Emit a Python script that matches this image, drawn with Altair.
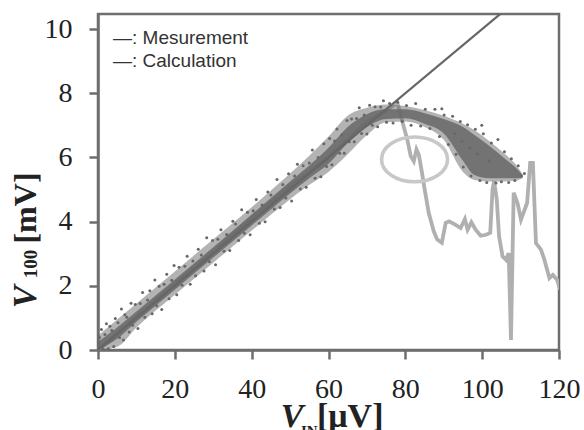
import altair as alt
import pandas as pd

# ---- data ----
# Calculation: straight line from origin, leaves the top of the plot near x=105
calc_x = [0, 105]
calc_y = [0, 10.5]

# Measurement (light gray line)
meas_x = [0, 10, 20, 30, 40, 50, 60, 70, 75, 77.9, 79.2, 80.5, 81.4, 82.2, 82.9, 83.5,
          84.2, 84.9, 86.1, 87.4, 88.3, 89.5, 90.5, 91.4, 93.1, 94.4, 95.5, 96.2, 97.2,
          98.3, 99.6, 101.0, 102.1, 102.7, 103.1, 103.8, 104.4, 105.3, 106.2, 106.9,
          107.5, 108.2, 109.2, 110.1, 111.7, 112.5, 113.2, 114.0, 115.3, 116.2, 117.5,
          118.4, 119.5, 120.3]
meas_y = [0, 1.02, 2.05, 3.05, 4.1, 5.1, 6.0, 7.1, 7.45, 7.72, 7.13, 6.56, 6.04, 5.88, 6.25,
          6.09, 5.62, 5.1, 4.27, 3.7, 3.44, 3.34, 3.96, 4.01, 3.9, 3.8, 4.08, 3.75, 3.98,
          3.75, 3.56, 3.59, 3.65, 5.0, 5.26, 4.69, 3.54, 2.92, 2.81, 3.02,
          0.31, 4.9, 4.58, 4.06, 4.58, 5.83, 5.83, 3.33, 3.13, 2.81, 2.24,
          2.34, 2.19, 1.88]

# Body of the scattered data: dense core and looser halo (lower / upper edges)
band_x = [0, 5, 10, 20, 30, 40, 50, 55, 60, 65, 70, 75, 80, 85, 90, 95, 98, 102, 106, 109, 110.5]
core_lo = [0, 0.35, 0.88, 1.88, 2.88, 3.88, 4.88, 5.35, 5.8, 6.45, 6.95, 7.2, 7.22, 7.05, 6.75, 5.9, 5.45, 5.35, 5.35, 5.35, 5.38]
core_hi = [0.25, 0.7, 1.2, 2.2, 3.2, 4.22, 5.25, 5.75, 6.3, 6.95, 7.35, 7.5, 7.5, 7.38, 7.2, 6.95, 6.7, 6.35, 5.95, 5.65, 5.45]
halo_lo = [0, 0.1, 0.7, 1.72, 2.72, 3.72, 4.7, 5.15, 5.55, 6.1, 6.7, 7.1, 7.12, 6.95, 6.55, 5.55, 5.3, 5.25, 5.25, 5.28, 5.35]
halo_hi = [0.45, 0.95, 1.45, 2.45, 3.45, 4.45, 5.5, 6.05, 6.65, 7.3, 7.55, 7.65, 7.6, 7.48, 7.3, 7.05, 6.85, 6.5, 6.1, 5.75, 5.48]

# Scattered dots around the body (x, y)
scatter_pts = [
    (0.4, 0.39), (0.9, 0.64), (1.3, 0.03), (1.8, 0.48), (2.2, 0.82), (2.7, 0.04), (3.1, 0.74),
    (3.6, 0.61), (4.1, 0.11), (4.5, 0.98), (5.2, 0.85), (5.6, 0.39), (6.1, 1.28), (6.6, 0.31),
    (7.0, 1.1), (7.5, 1.02), (8.1, 0.56), (8.6, 1.46), (9.0, 0.77), (9.7, 1.42), (10.4, 0.67),
    (11.0, 1.45), (11.6, 1.79), (12.2, 1.02), (12.9, 1.56), (13.5, 1.85), (14.1, 1.13),
    (14.8, 2.18), (15.3, 1.38), (15.9, 1.99), (16.6, 1.26), (17.2, 2.05), (17.9, 2.36),
    (18.5, 1.6), (19.2, 2.17), (19.8, 2.63), (20.5, 1.72), (21.1, 2.58), (21.9, 2.02),
    (22.6, 2.61), (23.2, 2.92), (24.0, 2.05), (24.7, 2.77), (25.4, 2.31), (26.1, 3.14),
    (26.9, 2.96), (27.6, 2.46), (28.3, 3.5), (29.0, 2.75), (29.8, 3.41), (30.6, 2.66),
    (31.2, 3.45), (32.0, 3.75), (32.8, 3.08), (33.5, 3.6), (34.3, 3.1), (35.1, 4.01),
    (35.8, 3.93), (36.6, 3.41), (37.4, 4.37), (38.1, 3.64), (38.9, 4.29), (39.6, 3.59),
    (40.4, 4.34), (41.2, 4.69), (42.0, 3.95), (42.7, 4.52), (43.5, 4.0), (44.2, 4.92),
    (45.0, 4.83), (45.9, 4.39), (46.6, 5.31), (47.4, 4.44), (48.1, 5.16), (48.9, 4.74),
    (49.6, 5.49), (50.4, 4.64), (51.2, 5.42), (51.9, 5.79), (52.7, 5.02), (53.4, 5.74),
    (54.2, 5.07), (55.0, 5.83), (55.8, 6.23), (56.5, 5.35), (57.3, 6.0), (58.0, 5.4),
    (58.8, 6.43), (59.5, 5.72),
    (60.3, 6.59), (60.9, 5.77), (61.6, 6.51), (62.2, 6.89), (62.9, 6.13), (63.5, 6.7),
    (64.1, 6.13), (64.8, 7.15), (65.4, 6.49), (66.0, 7.2), (66.7, 6.49), (67.3, 7.21),
    (68.0, 7.55), (68.6, 6.75), (69.3, 7.32), (70.0, 6.73), (70.7, 7.63), (71.4, 7.0),
    (72.1, 7.58), (72.8, 6.96), (73.6, 7.57), (74.3, 7.77), (75.1, 7.1), (75.9, 7.68), (76.8, 7.07),
    (78.0, 7.72), (79.2, 7.12), (80.3, 7.62), (81.5, 7.0), (82.7, 7.68), (84.0, 6.98),
    (85.2, 7.5), (86.4, 6.9), (87.7, 7.5), (88.9, 6.65), (89.5, 7.52), (90.1, 7.32), (91.2, 6.4),
    (92.3, 7.28), (92.8, 6.75), (93.2, 6.1), (94.3, 7.12), (94.8, 6.5), (95.1, 5.7), (96.2, 7.02),
    (96.8, 6.3), (97.1, 5.42), (98.2, 6.88), (98.8, 6.1), (99.4, 5.28), (99.9, 7.0), (100.3, 6.74),
    (101.2, 5.22), (101.8, 5.9), (102.4, 6.45), (103.6, 5.2), (104.1, 6.56), (105.0, 5.24),
    (105.8, 6.18), (106.9, 5.22), (107.6, 5.96), (108.5, 5.28), (109.4, 5.74), (110.2, 5.42),
    (111.0, 5.5),
]

# Highlight ellipse (centre)
ell_x = [82.4]
ell_y = [5.94]

x_ticks = [0, 20, 40, 60, 80, 100, 120]
y_ticks = [0, 2, 4, 6, 8, 10]
legend_lines = ["\u2014: Mesurement", "\u2014: Calculation"]

# ---- chart ----
AX = "#6e6e6e"
DOT = "#676767"
LIGHT = "#b0b0b0"
SERIF = "Liberation Serif"

xs = alt.Scale(domain=[0, 120], nice=False)
ys = alt.Scale(domain=[0, 10.47], nice=False)

x_axis = alt.Axis(values=x_ticks, title=None, grid=False, labelFont=SERIF, labelFontSize=28,
                  labelColor="#222222", tickSize=9, tickWidth=2.5, tickColor=AX,
                  domainColor=AX, domainWidth=2.5, labelPadding=16, labelFlush=False)
y_axis = alt.Axis(values=y_ticks, title=None, grid=False, labelFont=SERIF, labelFontSize=28,
                  labelColor="#222222", tickSize=9, tickWidth=2.5, tickColor=AX,
                  domainColor=AX, domainWidth=2.5, labelPadding=17)

meas_df = pd.DataFrame({"x": meas_x, "y": meas_y})
calc_df = pd.DataFrame({"x": calc_x, "y": calc_y})
band_df = pd.DataFrame({"x": band_x, "clo": core_lo, "chi": core_hi, "hlo": halo_lo, "hhi": halo_hi})
dot_df = pd.DataFrame(scatter_pts, columns=["x", "y"])
ell_df = pd.DataFrame({"x": ell_x, "y": ell_y})

meas = alt.Chart(meas_df).mark_line(color=LIGHT, strokeWidth=3.8, clip=True).encode(
    x=alt.X("x:Q", scale=xs, axis=x_axis),
    y=alt.Y("y:Q", scale=ys, axis=y_axis),
    order="x:Q",
)

halo = alt.Chart(band_df).mark_area(color=DOT, opacity=0.5, interpolate="monotone").encode(
    x=alt.X("x:Q", scale=xs), y=alt.Y("hlo:Q", scale=ys), y2="hhi:Q"
)
core = alt.Chart(band_df).mark_area(color=DOT, opacity=0.85, interpolate="monotone").encode(
    x=alt.X("x:Q", scale=xs), y=alt.Y("clo:Q", scale=ys), y2="chi:Q"
)

dots = alt.Chart(dot_df).mark_circle(color=DOT, size=9, opacity=1).encode(
    x=alt.X("x:Q", scale=xs), y=alt.Y("y:Q", scale=ys)
)

calc = alt.Chart(calc_df).mark_line(color="#666666", strokeWidth=2.2, clip=True).encode(
    x=alt.X("x:Q", scale=xs), y=alt.Y("y:Q", scale=ys)
)

ellipse_path = ("M -1 0 C -1 -0.3756 -0.5523 -0.68 0 -0.68 C 0.5523 -0.68 1 -0.3756 1 0 "
                "C 1 0.3756 0.5523 0.68 0 0.68 C -0.5523 0.68 -1 0.3756 -1 0 Z")
ell = alt.Chart(ell_df).mark_point(shape=ellipse_path, size=4356, filled=False,
                                   color="#c8c8c8", strokeWidth=3.6, opacity=1).encode(
    x=alt.X("x:Q", scale=xs), y=alt.Y("y:Q", scale=ys)
)

def txt(s, x, y, **kw):
    return alt.Chart(pd.DataFrame({"t": [s]})).mark_text(**kw).encode(
        text="t:N", x=alt.value(x), y=alt.value(y))

leg1 = txt(legend_lines[0], 15, 30, font="Liberation Sans", fontSize=19, color="#333333",
           align="left", baseline="alphabetic")
leg2 = txt(legend_lines[1], 15, 53, font="Liberation Sans", fontSize=19, color="#333333",
           align="left", baseline="alphabetic")

# axis titles built from pieces (italic V with subscript)
xt1 = txt("V", 194, 413, font=SERIF, fontSize=34, fontWeight="bold", fontStyle="italic",
          color="#222222", align="center", baseline="alphabetic")
xt2 = txt("IN", 203, 422, font=SERIF, fontSize=15, fontWeight="bold",
          color="#222222", align="left", baseline="alphabetic")
xt3 = txt("[\u03bcV]", 219, 413, font=SERIF, fontSize=34, fontWeight="bold",
          color="#222222", align="left", baseline="alphabetic")

yt1 = txt("V", -72, 283, font=SERIF, fontSize=34, fontWeight="bold", fontStyle="italic",
          color="#222222", align="center", baseline="middle", angle=270)
yt2 = txt("100", -67, 250, font=SERIF, fontSize=19, fontWeight="bold",
          color="#222222", align="center", baseline="middle", angle=270)
yt3 = txt("[mV]", -72, 194, font=SERIF, fontSize=32, fontWeight="bold",
          color="#222222", align="center", baseline="middle", angle=270)

chart = alt.layer(meas, halo, core, dots, calc, ell, leg1, leg2, xt1, xt2, xt3, yt1, yt2, yt3).properties(
    width=461, height=336,
    autosize=alt.AutoSizeParams(type="none"),
    padding={"left": 98, "top": 14, "right": 25, "bottom": 80},
    background="white",
).configure_view(stroke=AX, strokeWidth=2.5).configure_axis(labelFont=SERIF)

chart.save("out.html", embed_options={"renderer": "svg", "actions": False})
